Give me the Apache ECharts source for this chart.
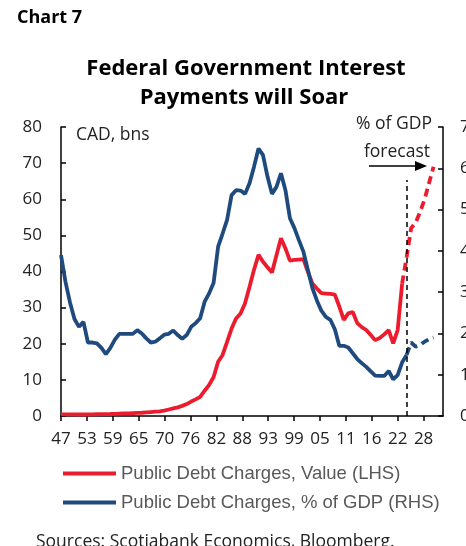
<!DOCTYPE html>
<html>
<head>
<meta charset="utf-8">
<script src="https://cdn.jsdelivr.net/npm/echarts@6/dist/echarts.min.js"></script>
<style>
  html, body { margin: 0; padding: 0; background: #fff; }
  #chart { width: 466px; height: 546px; }
</style>
</head>
<body>
<div id="chart"></div>
<script>
// historical years (solid lines)
const HIST_YEARS = [1947, 1948, 1949, 1950, 1951, 1952, 1953, 1954, 1955, 1956,
    1957, 1958, 1959, 1960, 1961, 1962, 1963, 1964, 1965, 1966,
    1967, 1968, 1969, 1970, 1971, 1972, 1973, 1974, 1975, 1976,
    1977, 1978, 1979, 1980, 1981, 1982, 1983, 1984, 1985, 1986,
    1987, 1988, 1989, 1990, 1991, 1992, 1993, 1994, 1995, 1996,
    1997, 1998, 1999, 2000, 2001, 2002, 2003, 2004, 2005, 2006,
    2007, 2008, 2009, 2010, 2011, 2012, 2013, 2014, 2015, 2016,
    2017, 2018, 2019, 2020, 2021, 2022, 2023, 2024];

// Public debt charges, CAD bns (LHS) - 2024 onwards drawn by forecast
const VALUE_HIST = [0.45, 0.45, 0.45, 0.45, 0.42, 0.42, 0.42, 0.45, 0.48, 0.5,
    0.52, 0.55, 0.6, 0.65, 0.7, 0.75, 0.8, 0.85, 0.9, 1.0,
    1.1, 1.2, 1.3, 1.5, 1.8, 2.1, 2.4, 2.8, 3.3, 4.0,
    4.6, 5.3, 7.0, 8.6, 10.8, 15.0, 16.9, 20.5, 24.2, 27.0,
    28.4, 31.2, 35.8, 40.5, 44.6, 42.7, 41.2, 39.7, 44.5, 49.2,
    46.4, 43.0, 43.2, 43.3, 43.4, 39.9, 36.7, 35.3, 34.0, 33.9,
    33.8, 33.6, 30.3, 26.6, 28.4, 28.8, 25.7, 24.6, 23.8, 22.4,
    21.0, 21.6, 22.6, 23.8, 20.1, 23.8, 36.7, null];

// Public debt charges, % of GDP (RHS)
const PCT_HIST = [3.90, 3.25, 2.75, 2.35, 2.16, 2.28, 1.78, 1.78, 1.76, 1.65,
    1.50, 1.65, 1.85, 1.99, 1.99, 1.99, 1.99, 2.08, 2.00, 1.88,
    1.78, 1.80, 1.88, 1.97, 1.99, 2.07, 1.96, 1.87, 1.96, 2.16,
    2.25, 2.37, 2.77, 2.97, 3.23, 4.10, 4.42, 4.75, 5.35, 5.47,
    5.46, 5.38, 5.64, 6.04, 6.48, 6.32, 5.80, 5.38, 5.55, 5.88,
    5.47, 4.79, 4.55, 4.26, 3.98, 3.54, 3.10, 2.80, 2.55, 2.40,
    2.33, 2.10, 1.70, 1.70, 1.66, 1.52, 1.38, 1.28, 1.19, 1.08,
    0.98, 0.97, 0.97, 1.09, 0.89, 0.99, 1.30, 1.48];

// forecast (dashed)
const FCST_YEARS = [2023, 2024, 2025, 2026, 2027, 2028, 2029, 2030];
const VALUE_FCST = [36.7, 44.0, 52.0, 53.5, 56.5, 60.0, 64.5, 69.0];
const PCT_FCST = [null, 1.48, 1.78, 1.68, 1.72, 1.80, 1.86, 1.90];

const X_TICK_LABELS = ['47', '53', '59', '65', '70', '76', '82', '88', '93', '99', '05', '11', '16', '22', '28'];
const FORECAST_START = 2024.1;

const BASE_YEAR = 1947;
const X_STEP = 5.77;
const X_MAX = 85.1;

const RED = '#EC1C2E';
const BLUE = '#1F4A7E';
const AXIS_FONT = 'Open Sans';

function pairs(years, values) {
    return years.map((y, i) => [y - BASE_YEAR, values[i]]);
}

const chart = echarts.init(document.getElementById('chart'));

const option = {
    animation: false,
    grid: { left: 61, right: 23, top: 127, bottom: 130, containLabel: false, outerBoundsMode: 'none' },
    xAxis: {
        type: 'value',
        min: 0,
        max: X_MAX,
        interval: X_STEP,
        splitLine: { show: false },
        axisLine: { lineStyle: { color: '#000', width: 1.5 } },
        axisTick: { show: true, length: 5, lineStyle: { color: '#000', width: 1.5 } },
        axisLabel: {
            margin: 15,
            showMaxLabel: false,
            color: '#222',
            fontFamily: AXIS_FONT,
            fontSize: 17,
            formatter: function (v) {
                const idx = Math.round(v / X_STEP);
                if (Math.abs(idx * X_STEP - v) > 0.01) return '';
                return X_TICK_LABELS[idx] || '';
            }
        }
    },
    yAxis: [
        {
            type: 'value', min: 0, max: 80, interval: 10,
            splitLine: { show: false },
            axisLine: { show: true, lineStyle: { color: '#000', width: 1.5 } },
            axisTick: { show: true, inside: true, length: 5, lineStyle: { color: '#000', width: 1.5 } },
            axisLabel: { margin: 19, color: '#222', fontFamily: AXIS_FONT, fontSize: 17 }
        },
        {
            type: 'value', min: 0, max: 7, interval: 1, position: 'right',
            splitLine: { show: false },
            axisLine: { show: true, lineStyle: { color: '#000', width: 1.5 } },
            axisTick: { show: true, inside: true, length: 5, lineStyle: { color: '#000', width: 1.5 } },
            axisLabel: { margin: 17, color: '#222', fontFamily: AXIS_FONT, fontSize: 17 }
        }
    ],
    legend: {
        data: ['Public Debt Charges, Value (LHS)', 'Public Debt Charges, % of GDP (RHS)'],
        orient: 'vertical',
        left: 63,
        top: 463,
        padding: 0,
        itemWidth: 53,
        itemHeight: 4,
        itemGap: 8,
        icon: 'rect',
        textStyle: { color: '#595959', fontFamily: 'Liberation Sans', fontSize: 18.5, lineHeight: 21 }
    },
    series: [
        {
            name: 'Public Debt Charges, Value (LHS)',
            type: 'line',
            yAxisIndex: 0,
            data: pairs(HIST_YEARS, VALUE_HIST),
            showSymbol: false,
            lineStyle: { color: RED, width: 3.8 },
            itemStyle: { color: RED },
            markLine: {
                silent: true,
                symbol: ['none', 'none'],
                label: { show: false },
                lineStyle: { color: '#000', width: 1.5, type: [5, 4] },
                data: [[
                    { coord: [FORECAST_START - BASE_YEAR, 0] },
                    { coord: [FORECAST_START - BASE_YEAR, 65.3] }
                ]]
            }
        },
        {
            name: 'Value forecast',
            type: 'line',
            yAxisIndex: 0,
            data: pairs(FCST_YEARS, VALUE_FCST),
            showSymbol: false,
            lineStyle: { color: RED, width: 3.8, type: [8, 5] }
        },
        {
            name: 'Public Debt Charges, % of GDP (RHS)',
            type: 'line',
            yAxisIndex: 1,
            data: pairs(HIST_YEARS, PCT_HIST),
            showSymbol: false,
            lineStyle: { color: BLUE, width: 3.8 },
            itemStyle: { color: BLUE }
        },
        {
            name: '% of GDP forecast',
            type: 'line',
            yAxisIndex: 1,
            data: pairs(FCST_YEARS, PCT_FCST),
            showSymbol: false,
            lineStyle: { color: BLUE, width: 3.8, type: [8, 5] }
        }
    ],
    graphic: [
        { type: 'text', left: 17, top: 9, style: { text: 'Chart 7', fontFamily: 'Open Sans', fontWeight: 'bold', fontSize: 18, fill: '#000' } },
        { type: 'text', x: 246, y: 69, style: { text: 'Federal Government Interest', textAlign: 'center', textVerticalAlign: 'middle', fontFamily: 'Open Sans', fontWeight: 'bold', fontSize: 22, fill: '#000' } },
        { type: 'text', x: 244, y: 98, style: { text: 'Payments will Soar', textAlign: 'center', textVerticalAlign: 'middle', fontFamily: 'Open Sans', fontWeight: 'bold', fontSize: 22, fill: '#000' } },
        { type: 'text', x: 76, y: 135, style: { text: 'CAD, bns', textVerticalAlign: 'middle', fontFamily: AXIS_FONT, fontSize: 17.5, fill: '#222' } },
        { type: 'text', x: 432, y: 124, style: { text: '% of GDP', textAlign: 'right', textVerticalAlign: 'middle', fontFamily: AXIS_FONT, fontSize: 17.5, fill: '#222' } },
        { type: 'text', x: 430, y: 152, style: { text: 'forecast', textAlign: 'right', textVerticalAlign: 'middle', fontFamily: AXIS_FONT, fontSize: 17.5, fill: '#222' } },
        { type: 'line', shape: { x1: 369, y1: 166, x2: 416, y2: 166 }, style: { stroke: '#000', lineWidth: 1.5 } },
        { type: 'polygon', shape: { points: [[415, 161], [427, 166], [415, 171]] }, style: { fill: '#000' } },
        { type: 'text', x: 36, y: 542, style: { text: 'Sources: Scotiabank Economics, Bloomberg.', textVerticalAlign: 'middle', fontFamily: AXIS_FONT, fontSize: 17.5, fill: '#222' } }
    ]
};

chart.setOption(option);

window.addEventListener('resize', () => {
    chart.resize();
});
</script>
</body>
</html>
